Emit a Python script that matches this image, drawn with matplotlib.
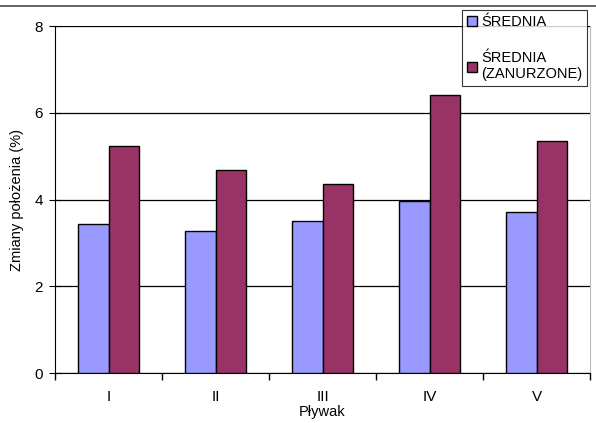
import numpy as np
import matplotlib
matplotlib.use("Agg")
import matplotlib.pyplot as plt
from matplotlib.lines import Line2D

plt.rcParams['font.family'] = ['Liberation Sans', 'DejaVu Sans']

# Mean position changes per swimmer
swimmers = ["I", "II", "III", "IV", "V"]
mean_all = [3.43, 3.28, 3.50, 3.96, 3.71]
mean_submerged = [5.23, 4.68, 4.35, 6.41, 5.35]
labels = ["ŚREDNIA", "ŚREDNIA\n(ZANURZONE)"]

fig = plt.figure(figsize=(5.96, 4.23), dpi=100)
ax = fig.add_axes([0.0923, 0.1182, 0.8977, 0.8203])

x = np.arange(len(swimmers))
w = 0.285
ax.bar(x - w / 2, mean_all, w, color="#9999FF", edgecolor="black", linewidth=1, label=labels[0], zorder=3)
ax.bar(x + w / 2, mean_submerged, w, color="#993366", edgecolor="black", linewidth=1, label=labels[1], zorder=3)

ax.set_xlim(-0.5, len(swimmers) - 0.5)
ax.set_ylim(0, 8)
ax.set_yticks([0, 2, 4, 6, 8])
ax.set_xticks(x)
ax.set_xticklabels(swimmers)
ax.set_xticks(np.arange(-0.5, len(swimmers)), minor=True)
ax.tick_params(axis="x", which="major", length=0, pad=12, labelsize=11)
ax.tick_params(axis="x", which="minor", length=5, direction="out", width=1)
ax.tick_params(axis="y", length=9, direction="inout", labelsize=11, pad=4)

ax.yaxis.grid(True, color="black", linewidth=0.9, zorder=0)
ax.set_axisbelow(True)
ax.spines["top"].set_visible(False)
ax.spines["right"].set_color("#BBBBBB")
ax.spines["left"].set_color("black")
ax.spines["bottom"].set_color("black")

ax.set_xlabel("Pływak", fontsize=10.5, labelpad=1)
ax.set_ylabel("Zmiany położenia (%)", fontsize=10.5, labelpad=8)

# top border of the chart area
fig.add_artist(Line2D([0, 1], [0.986, 0.986], transform=fig.transFigure, color="#555555", linewidth=1.3))

leg = ax.legend(loc="upper left", bbox_to_anchor=(0.775, 0.976), bbox_transform=fig.transFigure,
                fontsize=10.5, frameon=True, fancybox=False, handlelength=0.7, handleheight=0.7,
                handletextpad=0.25, labelspacing=1.5, borderpad=0.35, borderaxespad=0)
leg.get_frame().set_edgecolor("black")
leg.get_frame().set_linewidth(0.8)
leg.set_zorder(5)

fig.savefig("out.png", dpi=100)
